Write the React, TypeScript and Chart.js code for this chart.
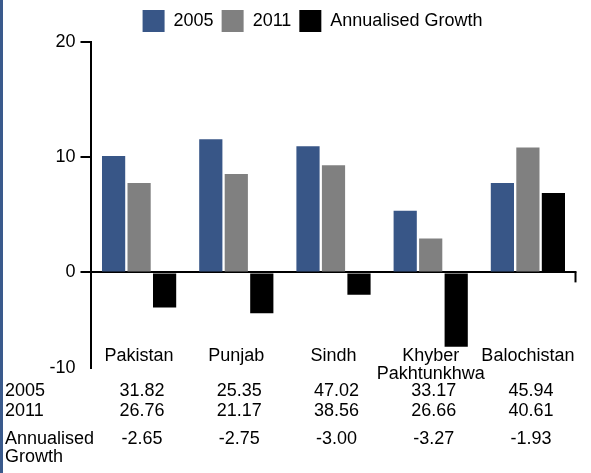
import React, { useEffect, useRef } from 'react';
import { Chart, registerables } from 'chart.js';

Chart.register(...registerables);

// ---- data ----
const categories: (string | string[])[] = ['Pakistan', 'Punjab', 'Sindh', ['Khyber', 'Pakhtunkhwa'], 'Balochistan'];
const series2005 = [10.1, 11.55, 10.95, 5.35, 7.75];
const series2011 = [7.75, 8.55, 9.3, 2.95, 10.85];
const seriesGrowth = [-3.05, -3.55, -1.95, -6.45, 6.9];
const seriesNames = ['2005', '2011', 'Annualised Growth'];
const yTickValues = [0, 10, 20];
const yBottomLabel = '-10';
const tableRowLabels = [['2005'], ['2011'], ['Annualised', 'Growth']];
const table2005 = [31.82, 25.35, 47.02, 33.17, 45.94];
const table2011 = [26.76, 21.17, 38.56, 26.66, 40.61];
const tableGrowth = [-2.65, -2.75, -3.0, -3.27, -1.93];

// ---- style ----
const FONT_FAMILY = '"Liberation Sans", Arial, Helvetica, sans-serif';
const BLUE = '#385687';
const GREY = '#808080';
const BLACK = '#000000';
const Y_MIN = -8.3;
const Y_MAX = 20;

const tablePlugin = {
  id: 'tableRows',
  afterDraw(chart: any) {
    const { ctx, chartArea } = chart;
    const xs = chart.scales.x;
    const ys = chart.scales.y;
    const y0 = ys.getPixelForValue(0);
    ctx.save();
    // small end tick of the zero axis
    ctx.strokeStyle = BLACK;
    ctx.lineWidth = 2;
    ctx.beginPath();
    ctx.moveTo(chartArea.right - 1, y0);
    ctx.lineTo(chartArea.right - 1, y0 + 10);
    ctx.stroke();

    ctx.font = `18px ${FONT_FAMILY}`;
    ctx.fillStyle = BLACK;
    ctx.textBaseline = 'middle';
    const rows = [table2005, table2011, tableGrowth];
    const rowOffsets = [23, 43, 71];
    const lineH = 18;
    rows.forEach((row, r) => {
      const yy = chartArea.bottom + rowOffsets[r];
      ctx.textAlign = 'left';
      tableRowLabels[r].forEach((t, k) => ctx.fillText(t, 2, yy + k * lineH));
      ctx.textAlign = 'center';
      row.forEach((v, i) => {
        ctx.fillText(v.toFixed(2), xs.getPixelForValue(i) + 3, yy);
      });
    });
    ctx.restore();
  },
};

export default function App() {
  const ref = useRef<HTMLCanvasElement | null>(null);

  useEffect(() => {
    if (!ref.current) return;
    const font = { family: FONT_FAMILY, size: 18 };
    const chart = new Chart(ref.current, {
      type: 'bar',
      data: {
        labels: categories as any,
        datasets: [
          { label: seriesNames[0], data: series2005, backgroundColor: BLUE, borderWidth: 0 },
          { label: seriesNames[1], data: series2011, backgroundColor: GREY, borderWidth: 0 },
          { label: seriesNames[2], data: seriesGrowth, backgroundColor: BLACK, borderWidth: 0 },
        ],
      },
      options: {
        animation: false,
        responsive: false,
        categoryPercentage: 0.787,
        barPercentage: 0.91,
        layout: { padding: { left: 45.5, right: 14.5, top: 2, bottom: 0 } },
        plugins: {
          legend: {
            position: 'top',
            labels: { boxWidth: 22, boxHeight: 22, padding: 8, color: BLACK, font },
          },
          tooltip: { enabled: false },
        },
        scales: {
          x: {
            grid: { display: false },
            border: { display: false },
            ticks: {
              color: BLACK,
              font: { ...font, lineHeight: 1.05 },
              mirror: true,
              padding: 3,
              autoSkip: false,
              maxRotation: 0,
            },
            afterFit: (s: any) => {
              s.height = 105;
            },
          },
          y: {
            min: Y_MIN,
            max: Y_MAX,
            afterBuildTicks: (s: any) => {
              s.ticks = [Y_MIN, ...yTickValues].map((v) => ({ value: v }));
            },
            ticks: {
              color: BLACK,
              font,
              padding: 5,
              callback: (v: any) => (v === Y_MIN ? yBottomLabel : String(v)),
            },
            grid: {
              drawOnChartArea: true,
              color: (c: any) => (c.tick && c.tick.value === 0 ? BLACK : 'transparent'),
              lineWidth: 2,
              tickLength: 10,
              tickWidth: 2,
              tickColor: (c: any) => (c.tick && c.tick.value === Y_MIN ? 'transparent' : BLACK),
            },
            border: { display: true, color: BLACK, width: 2 },
            afterFit: (s: any) => {
              s.width = 42;
            },
          },
        },
      },
      plugins: [tablePlugin],
    });
    return () => chart.destroy();
  }, []);

  return (
    <div style={{ position: 'fixed', left: 0, top: 0, width: 591, height: 473, background: '#ffffff', overflow: 'hidden' }}>
      <div style={{ position: 'absolute', left: 0, top: 0, width: 3, height: 473, background: '#3a5a8c' }} />
      <canvas ref={ref} width={588} height={473} style={{ position: 'absolute', left: 3, top: 0, width: 588, height: 473 }} />
    </div>
  );
}
